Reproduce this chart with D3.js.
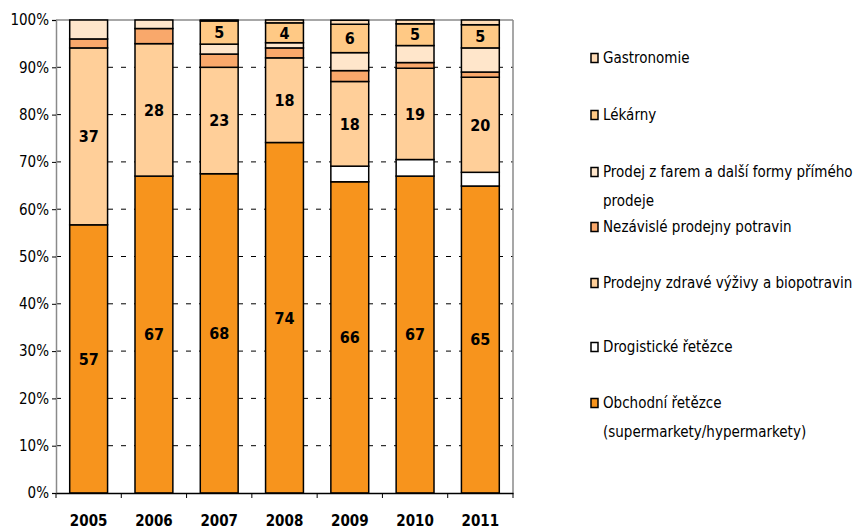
<!DOCTYPE html>
<html>
<head>
<meta charset="utf-8">
<script src="https://cdn.jsdelivr.net/npm/d3@7"></script>
<style>
  body { margin: 0; background: #fff; }
  svg text { font-family: "Liberation Sans Narrow", "Arial Narrow", "DejaVu Sans Condensed", sans-serif; }
</style>
</head>
<body>
<svg id="drawing_region"></svg>
<script>
// data (shares in %)
const years = ['2005', '2006', '2007', '2008', '2009', '2010', '2011'];
const obchodni    = [56.7, 67.0, 67.5, 74.1, 65.8, 67.0, 64.9];
const drogisticke = [0, 0, 0, 0, 3.3, 3.5, 2.9];
const zdrave      = [37.4, 28.0, 22.5, 17.9, 17.9, 19.3, 20.1];
const nezavisle   = [1.9, 3.2, 2.8, 2.1, 2.3, 1.2, 1.1];
const farmy       = [4.0, 1.8, 2.1, 1.1, 3.8, 3.6, 5.1];
const lekarny     = [0, 0, 4.9, 4.2, 6.0, 4.6, 4.9];
const gastro      = [0, 0, 0.3, 0.6, 0.85, 0.85, 1.1];
const yTicks = [0, 10, 20, 30, 40, 50, 60, 70, 80, 90, 100];

// stacking order, bottom to top
const series = [
    {name: 'Obchodní řetězce (supermarkety/hypermarkety)', values: obchodni, color: '#f7941d', label: true},
    {name: 'Drogistické řetězce', values: drogisticke, color: '#ffffff', label: false},
    {name: 'Prodejny zdravé výživy a biopotravin', values: zdrave, color: '#ffcf99', label: true},
    {name: 'Nezávislé prodejny potravin', values: nezavisle, color: '#f9a86b', label: false},
    {name: 'Prodej z farem a další formy přímého prodeje', values: farmy, color: '#ffe6cb', label: false},
    {name: 'Lékárny', values: lekarny, color: '#ffc985', label: true},
    {name: 'Gastronomie', values: gastro, color: '#ffdcb6', label: false},
];

const config = {
    width: 856,
    height: 532,
    margin: {top: 20, right: 343, bottom: 39, left: 56},
};
const innerW = config.width - config.margin.left - config.margin.right;
const innerH = config.height - config.margin.top - config.margin.bottom;

const svg = d3.select('#drawing_region')
    .attr('width', config.width)
    .attr('height', config.height);
const chart = svg.append('g')
    .attr('transform', `translate(${config.margin.left}, ${config.margin.top})`);

const x = d3.scaleBand().domain(years).range([0, innerW])
    .paddingInner(0.42).paddingOuter(0.21);
const y = d3.scaleLinear().domain([0, 100]).range([innerH, 0]);

// dashed gridlines
chart.selectAll('.grid')
    .data(yTicks.filter(t => t > 0 && t < 100))
    .enter().append('line')
    .attr('x1', 0).attr('x2', innerW)
    .attr('y1', d => y(d)).attr('y2', d => y(d))
    .attr('stroke', '#000').attr('stroke-width', 1)
    .attr('stroke-dasharray', '5,8');

// frame (top + right)
chart.append('line').attr('x1', 0).attr('x2', innerW).attr('y1', y(100)).attr('y2', y(100))
    .attr('stroke', '#8a8a8a').attr('stroke-width', 1.5);
chart.append('line').attr('x1', innerW).attr('x2', innerW).attr('y1', y(100)).attr('y2', y(0))
    .attr('stroke', '#8a8a8a').attr('stroke-width', 1.5);

// stacked data
const rows = years.map((yr, i) => {
    const r = {year: yr};
    series.forEach(s => { r[s.name] = s.values[i]; });
    return r;
});
const stack = d3.stack().keys(series.map(s => s.name))(rows);

const layers = chart.selectAll('.layer')
    .data(stack)
    .enter().append('g')
    .attr('fill', (d, i) => series[i].color);

layers.selectAll('rect')
    .data(d => d.filter(p => p[1] - p[0] > 0))
    .enter().append('rect')
    .attr('x', d => x(d.data.year))
    .attr('y', d => y(Math.min(d[1], 100)))
    .attr('width', x.bandwidth())
    .attr('height', d => y(d[0]) - y(Math.min(d[1], 100)))
    .attr('stroke', '#000')
    .attr('stroke-width', 1.5);

// value labels
layers.each(function(d, i) {
    if (!series[i].label) return;
    d3.select(this).selectAll('text')
        .data(d.filter(p => p[1] - p[0] > 0))
        .enter().append('text')
        .attr('x', p => x(p.data.year) + x.bandwidth() / 2)
        .attr('y', p => y((p[0] + p[1]) / 2))
        .attr('dy', '0.36em')
        .attr('text-anchor', 'middle')
        .attr('fill', '#000')
        .style('font-size', '16px')
        .style('font-weight', 'bold')
        .text(p => Math.round(p[1] - p[0]));
});

// y axis
const yAxis = chart.append('g')
    .call(d3.axisLeft(y).tickValues(yTicks).tickFormat(d => d + '%').tickSize(4));
yAxis.select('.domain').attr('stroke', '#8a8a8a').attr('stroke-width', 1.5);
yAxis.selectAll('.tick line').attr('stroke', '#000');
yAxis.selectAll('.tick text').style('font-size', '15px').attr('x', -7).attr('fill', '#000');

// x axis
const xAxis = chart.append('g')
    .attr('transform', `translate(0, ${innerH})`)
    .call(d3.axisBottom(x).tickSize(0));
xAxis.select('.domain').attr('stroke', '#000').attr('stroke-width', 1.5);
xAxis.selectAll('.tick text')
    .attr('y', 22)
    .style('font-size', '15px')
    .style('font-weight', 'bold')
    .attr('fill', '#000');
// category boundary ticks
const bounds = d3.range(years.length + 1).map(i => i * x.step());
xAxis.selectAll('.bound')
    .data(bounds)
    .enter().append('line')
    .attr('x1', d => d).attr('x2', d => d)
    .attr('y1', 0).attr('y2', 5)
    .attr('stroke', '#000');

// legend (top to bottom, reverse of the stack)
const legendItems = [
    {s: series[6], lines: ['Gastronomie'], cy: 58},
    {s: series[5], lines: ['Lékárny'], cy: 115},
    {s: series[4], lines: ['Prodej z farem a další formy přímého', 'prodeje'], cy: 172},
    {s: series[3], lines: ['Nezávislé prodejny potravin'], cy: 227},
    {s: series[2], lines: ['Prodejny zdravé výživy a biopotravin'], cy: 283},
    {s: series[1], lines: ['Drogistické řetězce'], cy: 347},
    {s: series[0], lines: ['Obchodní řetězce', '(supermarkety/hypermarkety)'], cy: 403},
];
const legend = svg.append('g');
const li = legend.selectAll('g')
    .data(legendItems)
    .enter().append('g')
    .attr('transform', d => `translate(591, ${d.cy})`);
li.append('rect')
    .attr('x', 0).attr('y', -4.5)
    .attr('width', 7).attr('height', 9)
    .attr('fill', d => d.s.color)
    .attr('stroke', '#000').attr('stroke-width', 1.5);
li.each(function(d) {
    d3.select(this).selectAll('text')
        .data(d.lines)
        .enter().append('text')
        .attr('x', 12)
        .attr('y', (t, j) => j * 29)
        .attr('dy', '0.36em')
        .attr('fill', '#000')
        .style('font-size', '15px')
        .text(t => t);
});
</script>
</body>
</html>
